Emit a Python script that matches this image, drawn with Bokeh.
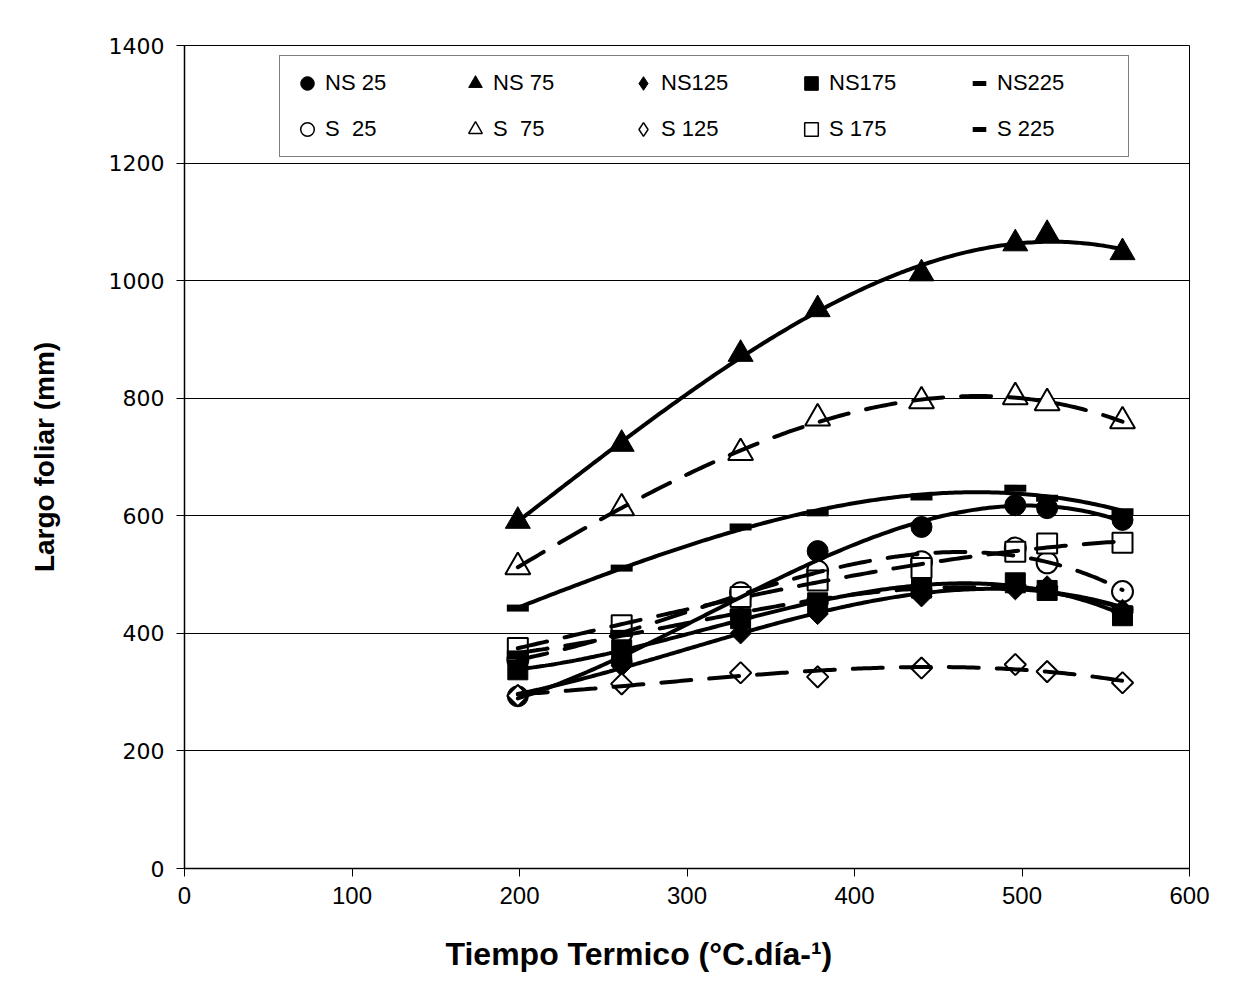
import numpy as np
from bokeh.plotting import figure
from bokeh.models import Range1d, Legend, LegendItem, Title, SingleIntervalTicker
from bokeh.embed import file_html
from bokeh.resources import INLINE

# ---- data ----
tiempo = [199, 261, 332, 378, 440, 496, 515, 560]
ns25 = [293, 352, 460, 540, 581, 618, 613, 593]
ns75 = [591, 722, 875, 951, 1012, 1063, 1079, 1048]
ns125 = [295, 345, 400, 433, 463, 475, 480, 440]
ns175 = [338, 372, 425, 452, 477, 486, 473, 430]
ns225 = [443, 511, 581, 605, 632, 647, 630, 607]
s25 = [355, 400, 469, 506, 522, 545, 520, 471]
s75 = [513, 613, 707, 766, 795, 802, 792, 761]
s125 = [294, 314, 333, 326, 341, 347, 335, 316]
s175 = [375, 414, 462, 490, 511, 539, 553, 554]
s225 = [365, 400, 435, 455, 472, 478, 475, 440]

labels = ["NS 25", "NS 75", "NS125", "NS175", "NS225",
          "S  25", "S  75", "S 125", "S 175", "S 225"]
x_ticks_interval = 100
y_ticks_interval = 200
trend_order = 3

series = {
    "NS 25": (ns25, "circle", True),
    "NS 75": (ns75, "triangle", True),
    "NS125": (ns125, "diamond", True),
    "NS175": (ns175, "square", True),
    "NS225": (ns225, "dash", True),
    "S  25": (s25, "circle", False),
    "S  75": (s75, "triangle", False),
    "S 125": (s125, "diamond", False),
    "S 175": (s175, "square", False),
    "S 225": (s225, "dash", False),
}
draw_order = ["NS 25", "S  25", "NS 75", "S  75", "NS125", "S 125",
              "NS175", "S 175", "NS225", "S 225"]

marker_style = {
    "circle": dict(marker="circle", size=21, angle=0.0),
    "triangle": dict(marker="triangle", size=25, angle=0.0),
    "diamond": dict(marker="square", size=15, angle=np.pi / 4),
    "square": dict(marker="square", size=20, angle=0.0),
    "dash": dict(marker="dash", size=22, angle=0.0),
}

p = figure(width=1257, height=998, output_backend="svg", toolbar_location=None,
           x_range=Range1d(0, 600), y_range=Range1d(0, 1400),
           min_border_left=184, min_border_right=68, min_border_top=45,
           min_border_bottom=129, background_fill_color="white",
           border_fill_color="white")

p.outline_line_color = "black"
p.outline_line_width = 1
p.xgrid.visible = False
p.ygrid.grid_line_color = "black"
p.ygrid.grid_line_width = 1

p.xaxis.ticker = SingleIntervalTicker(interval=x_ticks_interval)
p.yaxis.ticker = SingleIntervalTicker(interval=y_ticks_interval)
for ax in (p.xaxis[0], p.yaxis[0]):
    ax.axis_line_color = "black"
    ax.axis_line_width = 1.5
    ax.major_tick_line_color = "black"
    ax.major_tick_in = 0
    ax.major_tick_out = 8
    ax.minor_tick_line_color = None
    ax.major_label_text_color = "black"

p.yaxis.major_label_text_font = "DejaVu Sans"
p.yaxis.major_label_text_font_size = "22px"
p.yaxis.major_label_standoff = 12
p.xaxis.major_label_text_font = "Liberation Sans"
p.xaxis.major_label_text_font_size = "24px"
p.xaxis.major_label_standoff = 10

p.yaxis.axis_label = "Largo foliar (mm)"
p.yaxis.axis_label_text_font = "Liberation Sans"
p.yaxis.axis_label_text_font_style = "bold"
p.yaxis.axis_label_text_font_size = "28px"
p.yaxis.axis_label_text_color = "black"
p.yaxis.axis_label_standoff = 46

# markers
for name in draw_order:
    vals, mk, filled = series[name]
    st = marker_style[mk]
    if mk == "dash":
        p.scatter(tiempo, vals, marker="dash", size=st["size"], line_color="black",
                  line_width=7)
    else:
        p.scatter(tiempo, vals, marker=st["marker"], size=st["size"], angle=st["angle"],
                  fill_color="black" if filled else "white", line_color="black",
                  line_width=1 if filled else 2)

# polynomial trendlines, drawn on top of the markers
xs = np.linspace(min(tiempo), max(tiempo), 200)
for name in draw_order:
    vals, mk, filled = series[name]
    coef = np.polyfit(tiempo, vals, trend_order)
    ys = np.polyval(coef, xs)
    p.line(xs, ys, line_color="black", line_width=4, line_cap="round",
           line_dash="solid" if filled else "30 18")

# legend proxies (a single NaN point: nothing drawn in the plot)
legend_marker = {"circle": "circle", "triangle": "triangle", "diamond": "diamond",
                 "square": "square", "dash": "dash"}
items = []
for name in labels:
    vals, mk, filled = series[name]
    if mk == "dash":
        r = p.scatter([np.nan], [np.nan], marker="dash", line_color="black", line_width=5)
    else:
        r = p.scatter([np.nan], [np.nan], marker=legend_marker[mk],
                      fill_color="black" if filled else "white",
                      line_color="black", line_width=1 if filled else 1.5)
    items.append(LegendItem(label=name, renderers=[r]))

legend = Legend(items=items, orientation="horizontal", ncols=5,
                location=(95, 711), glyph_width=34, glyph_height=34,
                label_standoff=1, label_width=121, spacing=12, padding=10,
                label_text_font="Liberation Sans",
                label_text_font_size="22px", label_text_color="black",
                border_line_color="black", border_line_width=1,
                background_fill_color="white", background_fill_alpha=1.0)
p.add_layout(legend, "center")

xt = Title(text="Tiempo Termico (°C.día-¹)", align="left", offset=261,
           text_font="Liberation Sans",
           text_font_style="bold", text_font_size="32px", text_color="black",
           standoff=54)
p.add_layout(xt, "below")

open("out.html", "w").write(file_html(p, INLINE))
